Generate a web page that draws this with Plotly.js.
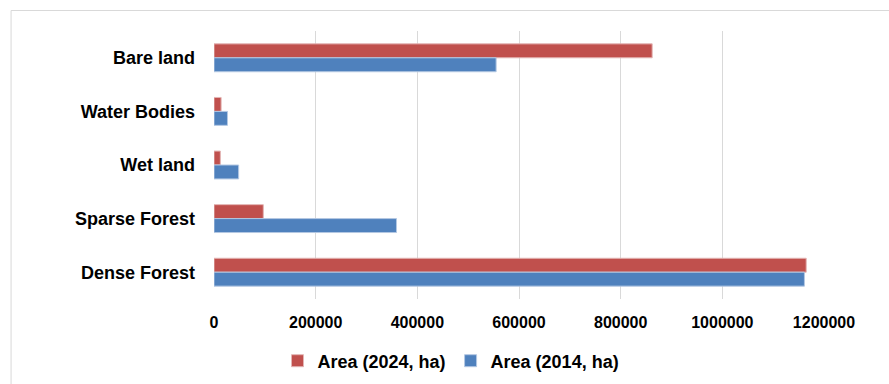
<!DOCTYPE html>
<html>
<head>
<meta charset="utf-8">
<script src="https://cdn.plot.ly/plotly-3.0.1.min.js"></script>
<style>html,body{margin:0;padding:0;background:#fff;}#chart{width:889px;height:384px;}</style>
</head>
<body>
<div id="chart"></div>
<script>
const categories = ["Bare land", "Water Bodies", "Wet land", "Sparse Forest", "Dense Forest"];
const area2024 = [862000, 14000, 12500, 97000, 1165000];
const area2014 = [555000, 26500, 48500, 359000, 1161500];
const seriesNames = ["Area (2024, ha)", "Area (2014, ha)"];
const xTicks = [0, 200000, 400000, 600000, 800000, 1000000, 1200000];

const font = {family: "Liberation Sans, Arial, sans-serif", color: "#000", weight: "bold"};

const traces = [
  {type: "bar", orientation: "h", name: seriesNames[0], y: categories, x: area2024,
   marker: {color: "#C0504D", line: {color: "#E3B5B4", width: 1}}},
  {type: "bar", orientation: "h", name: seriesNames[1], y: categories, x: area2014,
   marker: {color: "#4F81BD", line: {color: "#B4C8E3", width: 1}}}
];

const layout = {
  width: 889, height: 384,
  margin: {l: 213.5, r: 65.3, t: 31, b: 85, autoexpand: false},
  paper_bgcolor: "#fff", plot_bgcolor: "#fff",
  barmode: "group", bargap: 0.48, bargroupgap: 0,
  showlegend: true,
  legend: {orientation: "h", xref: "container", x: 451 / 889, xanchor: "center",
           yref: "container", y: 1 - 361 / 384, yanchor: "middle",
           font: Object.assign({}, font, {size: 18}), itemwidth: 30},
  xaxis: {range: [0, 1200000], tickvals: xTicks, ticktext: xTicks.map(String),
          showgrid: true, gridcolor: "#d9d9d9", gridwidth: 1, zeroline: false,
          showline: false, ticks: "", ticklabelstandoff: 12,
          tickfont: Object.assign({}, font, {size: 16}), fixedrange: true},
  yaxis: {type: "category", autorange: "reversed", showgrid: false, zeroline: false,
          showline: false, ticks: "", ticklabelstandoff: 18,
          tickfont: Object.assign({}, font, {size: 18}), fixedrange: true},
  shapes: [{type: "rect", xref: "paper", yref: "paper",
            x0: (10.5 - 213.5) / 610.2, x1: 1.3, y0: -0.6, y1: (299 - 10.5) / 268,
            line: {color: "#d9d9d9", width: 1}, fillcolor: "rgba(0,0,0,0)", layer: "below"}]
};

Plotly.newPlot("chart", traces, layout, {displayModeBar: false, staticPlot: true});
</script>
</body>
</html>
